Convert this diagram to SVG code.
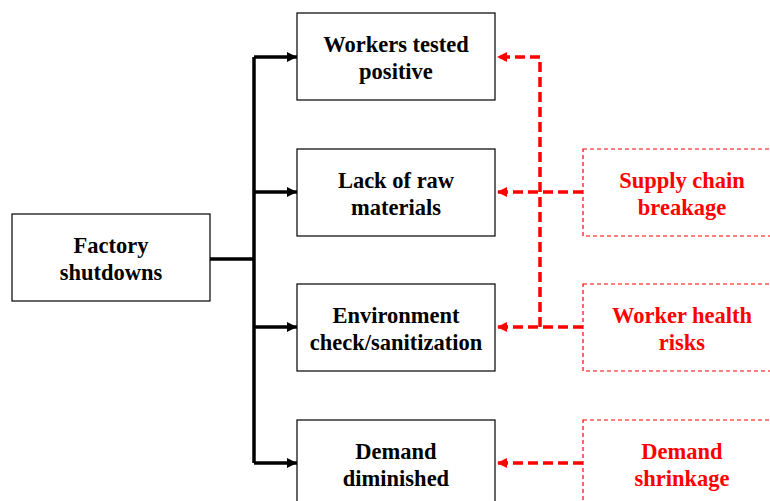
<svg xmlns="http://www.w3.org/2000/svg" width="770" height="501" viewBox="0 0 770 501">
<style>
.box{fill:#fff;stroke:#000;stroke-width:1.2}
.rbox{fill:#fff;stroke:#ff0000;stroke-width:1.2;stroke-dasharray:4 3}
.t{font-family:"Liberation Serif","Times New Roman",serif;font-weight:bold;font-size:22.5px;text-anchor:middle;fill:#000}
.rt{font-family:"Liberation Serif","Times New Roman",serif;font-weight:bold;font-size:22.5px;text-anchor:middle;fill:#ff0000}
.bl{fill:none;stroke:#000;stroke-width:3.5}
.rl{fill:none;stroke:#ff0000;stroke-width:3.5;stroke-dasharray:10 5}
</style>
<defs>
<marker id="ab" markerWidth="10" markerHeight="10" refX="10" refY="5" orient="auto" markerUnits="userSpaceOnUse" viewBox="0 0 10 10"><path d="M0,0 L10,5 L0,10 z" fill="#000"/></marker>
<marker id="ar" markerWidth="10" markerHeight="10" refX="10" refY="5" orient="auto" markerUnits="userSpaceOnUse" viewBox="0 0 10 10"><path d="M0,0 L10,5 L0,10 z" fill="#ff0000"/></marker>
</defs>
<rect width="770" height="501" fill="#fff"/>
<g id="connectors">
<path class="bl" d="M210,259 H254"/>
<path class="bl" d="M254,57 V463"/>
<path class="bl" d="M254,57 H297" marker-end="url(#ab)"/>
<path class="bl" d="M254,192 H297" marker-end="url(#ab)"/>
<path class="bl" d="M254,327 H297" marker-end="url(#ab)"/>
<path class="bl" d="M254,463 H297" marker-end="url(#ab)"/>
<path class="rl" d="M540,327 V57 H497" marker-end="url(#ar)"/>
<path class="rl" d="M583,192 H497" marker-end="url(#ar)"/>
<path class="rl" d="M583,327 H497" marker-end="url(#ar)"/>
<path class="rl" d="M583,463 H497" marker-end="url(#ar)"/>
</g>
<g id="factory"><rect class="box" x="12" y="214" width="198" height="87"/><text class="t" x="111" y="253">Factory</text><text class="t" x="111" y="280">shutdowns</text></g>
<g id="workers"><rect class="box" x="297" y="13" width="198" height="87"/><text class="t" x="396" y="52">Workers tested</text><text class="t" x="396" y="79">positive</text></g>
<g id="lack"><rect class="box" x="297" y="149" width="198" height="87"/><text class="t" x="396" y="188">Lack of raw</text><text class="t" x="396" y="215">materials</text></g>
<g id="env"><rect class="box" x="297" y="284" width="198" height="87"/><text class="t" x="396" y="323">Environment</text><text class="t" x="396" y="350">check/sanitization</text></g>
<g id="demand"><rect class="box" x="297" y="420" width="198" height="87"/><text class="t" x="396" y="459">Demand</text><text class="t" x="396" y="486">diminished</text></g>
<g id="supply"><rect class="rbox" x="583" y="149" width="198" height="87"/><text class="rt" x="682" y="188">Supply chain</text><text class="rt" x="682" y="215">breakage</text></g>
<g id="health"><rect class="rbox" x="583" y="284" width="198" height="87"/><text class="rt" x="682" y="323">Worker health</text><text class="rt" x="682" y="350">risks</text></g>
<g id="shrink"><rect class="rbox" x="583" y="420" width="198" height="87"/><text class="rt" x="682" y="459">Demand</text><text class="rt" x="682" y="486">shrinkage</text></g>
</svg>
